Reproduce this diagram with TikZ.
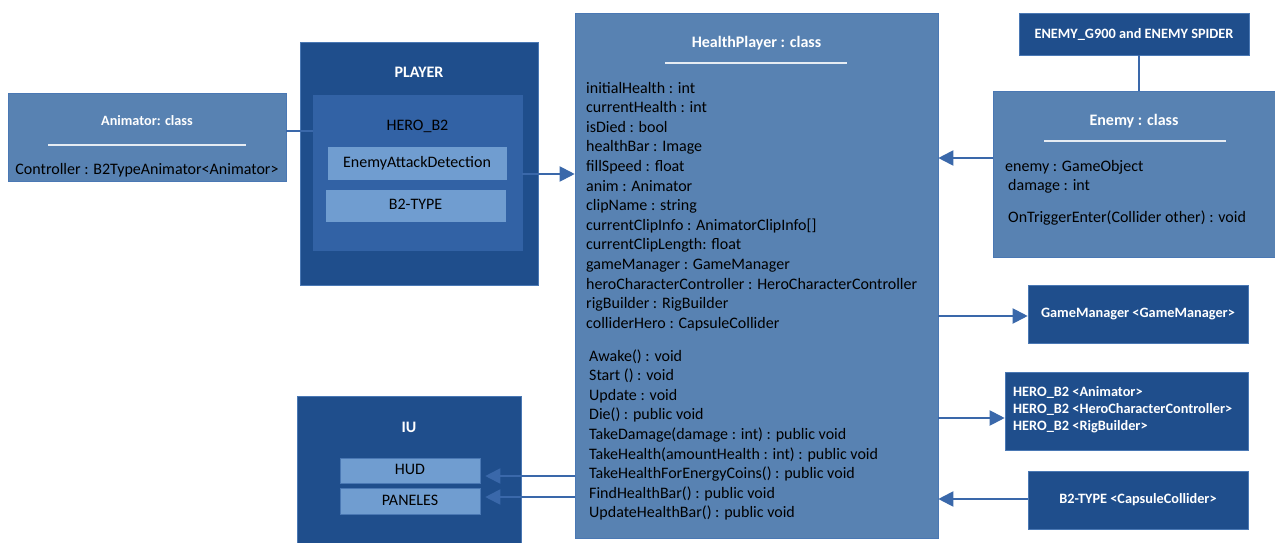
\documentclass[tikz,border=0pt]{standalone}
\usepackage{fontspec}
\setmainfont{Carlito}
\usetikzlibrary{arrows.meta}
\definecolor{dk}{HTML}{1F4E8C}
\definecolor{midb}{HTML}{5882B2}
\definecolor{herob}{HTML}{3262A5}
\definecolor{ltb}{HTML}{709DD0}
\definecolor{lnb}{HTML}{3A68AA}
\definecolor{edgeb}{HTML}{4A78B4}
\begin{document}
\begin{tikzpicture}[x=1pt,y=-1pt,
  box/.style={draw=edgeb,line width=0.6pt,inner sep=0pt,rectangle},
  body/.style={font=\fontsize{16}{18}\selectfont,text=black,inner sep=0pt,text height=11.5pt,text depth=3.5pt},
  ttl/.style={font=\fontsize{16}{18}\selectfont\bfseries,text=white,inner sep=0pt},
  sttl/.style={font=\fontsize{14.2}{16}\selectfont\bfseries,text=white,inner sep=0pt},
  wtxt/.style={font=\fontsize{14.3}{16}\selectfont\bfseries,text=white,inner sep=0pt},
  conn/.style={draw=lnb,line width=2pt},
  arr/.style={conn,-{Triangle[length=15pt,width=15pt]}},
  rule/.style={draw=white!85!midb,line width=1.2pt}]
\useasboundingbox (0,0) rectangle (1275,543);

% ---------- boxes ----------
\node[box,fill=midb,minimum width=278pt,minimum height=88pt] (anim) at (147,137) {};
\node[box,fill=dk,minimum width=238pt,minimum height=243pt] (player) at (419,163.5) {};
\node[box,fill=herob,draw=herob,minimum width=209pt,minimum height=155pt] (hero) at (417.5,172.5) {};
\node[box,fill=ltb,draw=ltb,minimum width=178pt,minimum height=32pt,body] (ead) at (417,163) {EnemyAttackDetection};
\node[box,fill=ltb,draw=ltb,minimum width=179pt,minimum height=31pt,body] (btype) at (415.5,205.5) {B2-TYPE};
\node[box,fill=midb,minimum width=363pt,minimum height=525pt] (hp) at (756.5,275.5) {};
\node[box,fill=dk,minimum width=230pt,minimum height=42pt,wtxt] (eg) at (1134,34) {ENEMY\_G900 and ENEMY SPIDER};
\node[box,fill=midb,minimum width=282pt,minimum height=166pt] (enemy) at (1134,174) {};
\node[box,fill=dk,minimum width=220pt,minimum height=58pt,wtxt] (gm) at (1138,314) {GameManager <GameManager>};
\node[box,fill=dk,minimum width=243pt,minimum height=78pt] (hl) at (1126.5,411) {};
\node[box,fill=dk,minimum width=220pt,minimum height=58pt,wtxt] (bc) at (1138,500) {B2-TYPE <CapsuleCollider>};
\node[box,fill=dk,minimum width=224pt,minimum height=147pt] (iu) at (409,469.5) {};
\node[box,fill=ltb,draw=edgeb,minimum width=140pt,minimum height=25pt,body] (hud) at (410,470.5) {HUD};
\node[box,fill=ltb,draw=edgeb,minimum width=140pt,minimum height=26pt,body] (pan) at (410,501) {PANELES};

% ---------- texts ----------
\node[sttl] (animt) at (147,121) {Animator: class};
\draw[rule] (48,145) -- (246,145);
\node[body] (animc) at (147,170) {Controller : B2TypeAnimator<Animator>};

\node[ttl] (playert) at (419,72) {PLAYER};
\node[body,text=black] (herot) at (417.5,126) {HERO\_B2};

\node[ttl] (hpt) at (756.5,43) {HealthPlayer : class};
\draw[rule] (665,63) -- (847,63);
\foreach \t [count=\i] in {initialHealth : int,currentHealth : int,isDied : bool,healthBar : Image,fillSpeed : float,anim : Animator,clipName : string,{currentClipInfo : AnimatorClipInfo[]},currentClipLength: float,gameManager : GameManager,heroCharacterController : HeroCharacterController,rigBuilder : RigBuilder,colliderHero : CapsuleCollider}
  \node[body,anchor=west] (hpa\i) at (586,{89+19.6*(\i-1)}) {\t};
\foreach \t [count=\i] in {Awake() : void,Start () : void,Update : void,Die() : public void,TakeDamage(damage : int) : public void,TakeHealth(amountHealth : int) : public void,TakeHealthForEnergyCoins() : public void,FindHealthBar() : public void,UpdateHealthBar() : public void}
  \node[body,anchor=west] (hpm\i) at (589,{357+19.6*(\i-1)}) {\t};

\node[ttl] (enemyt) at (1134,121) {Enemy : class};
\draw[rule] (1044,141) -- (1226,141);
\node[body,anchor=west] (en1) at (1005,167) {enemy : GameObject};
\node[body,anchor=west] (en2) at (1008,186) {damage : int};
\node[body,anchor=west] (en3) at (1008,218) {OnTriggerEnter(Collider other) : void};

\node[wtxt,anchor=west] (hl1) at (1013,392) {HERO\_B2 <Animator>};
\node[wtxt,anchor=west] (hl2) at (1013,409.5) {HERO\_B2 <HeroCharacterController>};
\node[wtxt,anchor=west] (hl3) at (1013,427) {HERO\_B2 <RigBuilder>};

\node[ttl] (iut) at (409,427) {IU};

% ---------- connectors ----------
\coordinate (c1) at ([yshift=6pt]anim.east);
\draw[conn] (c1) -- (c1 -| hero.west);
\coordinate (c2) at ([yshift=-1.5pt]hero.east);
\draw[arr] (c2) -- (c2 -| hp.west);
\coordinate (c3) at ([yshift=16pt]enemy.west);
\draw[arr] (c3) -- (c3 -| hp.east);
\coordinate (c4) at ([xshift=5pt]eg.south);
\draw[conn,line width=1.6pt] (c4) -- (c4 |- enemy.north);
\coordinate (c5) at ([yshift=-2pt]gm.west);
\draw[arr] (c5 -| hp.east) -- (c5);
\coordinate (c6) at ([yshift=-7pt]hl.west);
\draw[arr] (c6 -| hp.east) -- (c6);
\coordinate (c7) at ([yshift=1pt]bc.west);
\draw[arr] (c7) -- (c7 -| hp.east);
\coordinate (c8) at ([xshift=5pt,yshift=-5.5pt]hud.east);
\draw[arr] (c8 -| hp.west) -- (c8);
\coordinate (c9) at ([xshift=5pt,yshift=4pt]pan.east);
\draw[arr] (c9 -| hp.west) -- (c9);
\end{tikzpicture}
\end{document}
